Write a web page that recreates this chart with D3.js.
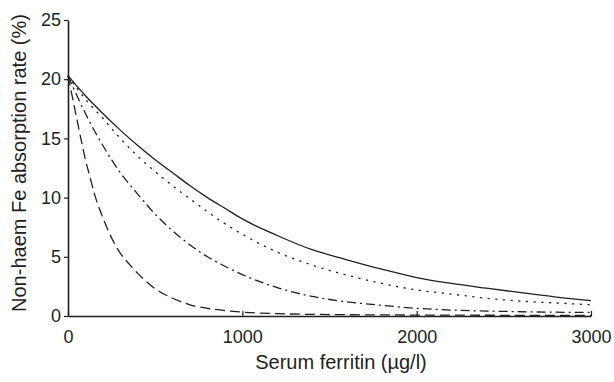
<!DOCTYPE html>
<html>
<head>
<meta charset="utf-8">
<script src="https://cdn.jsdelivr.net/npm/d3@7/dist/d3.min.js"></script>
<style>
  body { margin: 0; background: #fff; }
  text { font-family: "Liberation Sans", Arial, sans-serif; fill: #231f20; }
</style>
</head>
<body>
<div id="chart"></div>
<script>
// values (serum ferritin in ug/l, absorption in %)
const solidX = [0, 100, 200, 300, 400, 500, 600, 700, 800, 900, 1000, 1200, 1400, 1600, 1800, 2000, 2200, 2400, 2600, 2800, 3000];
const solidY = [20.3, 18.6, 17.1, 15.7, 14.4, 13.2, 12.1, 11.0, 10.0, 9.1, 8.2, 6.8, 5.6, 4.75, 3.95, 3.25, 2.75, 2.35, 1.97, 1.6, 1.3];

const dottedX = [0, 100, 200, 300, 400, 500, 600, 700, 800, 900, 1000, 1200, 1400, 1600, 1800, 2000, 2200, 2400, 2600, 2800, 3000];
const dottedY = [20.3, 18.3, 16.7, 15.0, 13.5, 12.2, 11.0, 9.9, 8.8, 7.8, 6.9, 5.4, 4.3, 3.45, 2.75, 2.2, 1.85, 1.5, 1.25, 1.1, 0.95];

const dashDotX = [0, 100, 200, 300, 400, 500, 600, 700, 800, 900, 1000, 1200, 1400, 1600, 1800, 2000, 2200, 2400, 2600, 2800, 3000];
const dashDotY = [20.3, 17.1, 14.4, 12.1, 10.3, 8.6, 7.2, 6.0, 5.0, 4.2, 3.5, 2.4, 1.65, 1.2, 0.9, 0.65, 0.5, 0.42, 0.36, 0.32, 0.3];

const dashedX = [0, 25, 50, 75, 100, 125, 150, 200, 250, 300, 350, 400, 450, 500, 600, 700, 800, 1000, 1200, 1500, 2000, 2500, 3000];
const dashedY = [20.3, 18.5, 16.7, 14.9, 13.2, 11.8, 10.4, 8.3, 6.6, 5.3, 4.4, 3.6, 2.9, 2.3, 1.5, 0.95, 0.65, 0.33, 0.2, 0.12, 0.08, 0.06, 0.05];

const xTicks = [0, 1000, 2000, 3000];
const yTicks = [0, 5, 10, 15, 20, 25];

const series = [
  { name: "solid", xs: solidX, ys: solidY, dash: null },
  { name: "dotted", xs: dottedX, ys: dottedY, dash: "2.2,5.5" },
  { name: "dashdot", xs: dashDotX, ys: dashDotY, dash: "9,4,2,4" },
  { name: "dashed", xs: dashedX, ys: dashedY, dash: "10,5" }
];

const width = 614, height = 382;
const margin = { left: 68, right: 23, top: 20, bottom: 66 };

const svg = d3.select("#chart").append("svg")
  .attr("width", width)
  .attr("height", height);

const x = d3.scaleLinear().domain([0, 3000]).range([margin.left, width - margin.right]);
const y = d3.scaleLinear().domain([0, 25]).range([height - margin.bottom, margin.top]);

// axes
const xAxis = svg.append("g")
  .attr("transform", `translate(0,${y(0)})`)
  .call(d3.axisBottom(x).tickValues(xTicks).tickSize(-5).tickPadding(14).tickSizeOuter(0).tickFormat(d3.format("d")));
const yAxis = svg.append("g")
  .attr("transform", `translate(${x(0)},0)`)
  .call(d3.axisLeft(y).tickValues(yTicks).tickSize(4).tickPadding(3).tickSizeOuter(0));

[xAxis, yAxis].forEach(g => {
  g.selectAll(".domain").attr("stroke", "#231f20").attr("stroke-width", 1.6);
  g.selectAll(".tick line").attr("stroke", "#231f20").attr("stroke-width", 1.2);
  g.selectAll("text").attr("font-size", "18px").attr("fill", "#231f20")
    .style("font-family", "'Liberation Sans', Arial, sans-serif");
});

// curves
const line = d3.line()
  .x(d => x(d[0]))
  .y(d => y(d[1]))
  .curve(d3.curveMonotoneX);

series.forEach(s => {
  const pts = s.xs.map((v, i) => [v, s.ys[i]]);
  svg.append("path")
    .datum(pts)
    .attr("fill", "none")
    .attr("stroke", "#231f20")
    .attr("stroke-width", 1.3)
    .attr("stroke-dasharray", s.dash)
    .attr("d", line);
});

// axis titles
svg.append("text")
  .attr("x", 341)
  .attr("y", 369)
  .attr("text-anchor", "middle")
  .attr("font-size", "20px")
  .text("Serum ferritin (\u00b5g/l)");

svg.append("text")
  .attr("transform", "translate(26,163) rotate(-90)")
  .attr("text-anchor", "middle")
  .attr("font-size", "20px")
  .text("Non-haem Fe absorption rate (%)");
</script>
</body>
</html>
